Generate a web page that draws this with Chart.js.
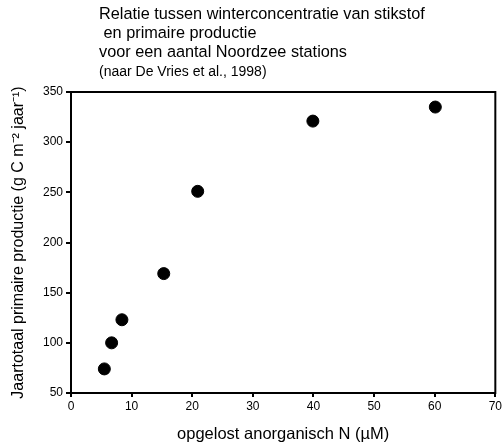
<!DOCTYPE html>
<html>
<head>
<meta charset="utf-8">
<script src="https://cdn.jsdelivr.net/npm/chart.js@4/dist/chart.umd.min.js"></script>
<style>
  html, body { margin: 0; padding: 0; background: #fff; }
  #wrap { width: 504px; height: 447px; }
</style>
</head>
<body>
<div id="wrap"><canvas id="chart"></canvas></div>
<script>
// winter N concentration (µM) vs annual primary production
const nitrogen = [5.5, 6.7, 8.4, 15.3, 20.9, 39.9, 60.1];
const production = [74, 100, 123, 169, 251, 321, 335];
const xTicks = [0, 10, 20, 30, 40, 50, 60, 70];
const yTicks = [50, 100, 150, 200, 250, 300, 350];

const titleLines = [
  'Relatie tussen winterconcentratie van stikstof',
  ' en primaire productie',
  'voor een aantal Noordzee stations'
];
const sourceLine = '(naar De Vries et al., 1998)';

const FONT = '"Liberation Sans", Arial, sans-serif';

// title block and frame around the plot
const decorations = {
  id: 'decorations',
  afterDraw(chart) {
    const ctx = chart.ctx;
    const a = chart.chartArea;
    ctx.save();
    ctx.strokeStyle = '#000';
    ctx.lineWidth = 2;
    ctx.strokeRect(a.left, a.top, a.right - a.left, a.bottom - a.top);

    ctx.fillStyle = '#000';
    ctx.textBaseline = 'middle';
    ctx.textAlign = 'left';
    ctx.font = '16.3px ' + FONT;
    titleLines.forEach((line, i) => {
      ctx.fillText(line, 99, 15 + i * 19);
    });
    ctx.font = '14px ' + FONT;
    ctx.fillText(sourceLine, 99, 72);
    ctx.restore();
  }
};

const ctx = document.getElementById('chart').getContext('2d');
new Chart(ctx, {
  type: 'scatter',
  data: {
    datasets: [{
      data: nitrogen.map((x, i) => ({ x: x, y: production[i] })),
      backgroundColor: '#000',
      borderColor: '#000',
      pointRadius: 6,
      pointHoverRadius: 6
    }]
  },
  options: {
    responsive: true,
    maintainAspectRatio: false,
    animation: false,
    layout: { padding: { top: 92, right: 7, left: 0, bottom: 0 } },
    plugins: {
      legend: { display: false },
      tooltip: { enabled: false }
    },
    scales: {
      x: {
        type: 'linear',
        min: 0,
        max: 70,
        afterBuildTicks: s => { s.ticks = xTicks.map(v => ({ value: v })); },
        afterFit: s => { s.height = 54; },
        grid: { display: true, drawOnChartArea: false, drawTicks: true, tickLength: 4, color: '#000', lineWidth: 2 },
        border: { display: true, color: '#000', width: 2 },
        ticks: { color: '#000', padding: 2, font: { family: FONT, size: 12 } },
        title: {
          display: true,
          text: 'opgelost anorganisch N (µM)',
          color: '#000',
          font: { family: FONT, size: 16.5 },
          padding: { top: 0, bottom: 3 }
        }
      },
      y: {
        type: 'linear',
        min: 50,
        max: 350,
        afterBuildTicks: s => { s.ticks = yTicks.map(v => ({ value: v })); },
        afterFit: s => { s.width = 71; },
        grid: { display: true, drawOnChartArea: false, drawTicks: true, tickLength: 5, color: '#000', lineWidth: 2 },
        border: { display: true, color: '#000', width: 2 },
        ticks: { color: '#000', padding: 3, font: { family: FONT, size: 12 } },
        title: {
          display: true,
          text: 'Jaartotaal primaire productie (g C m⁻² jaar⁻¹)',
          color: '#000',
          font: { family: FONT, size: 16 },
          padding: { top: 9, bottom: 0 }
        }
      }
    }
  },
  plugins: [decorations]
});
</script>
</body>
</html>
